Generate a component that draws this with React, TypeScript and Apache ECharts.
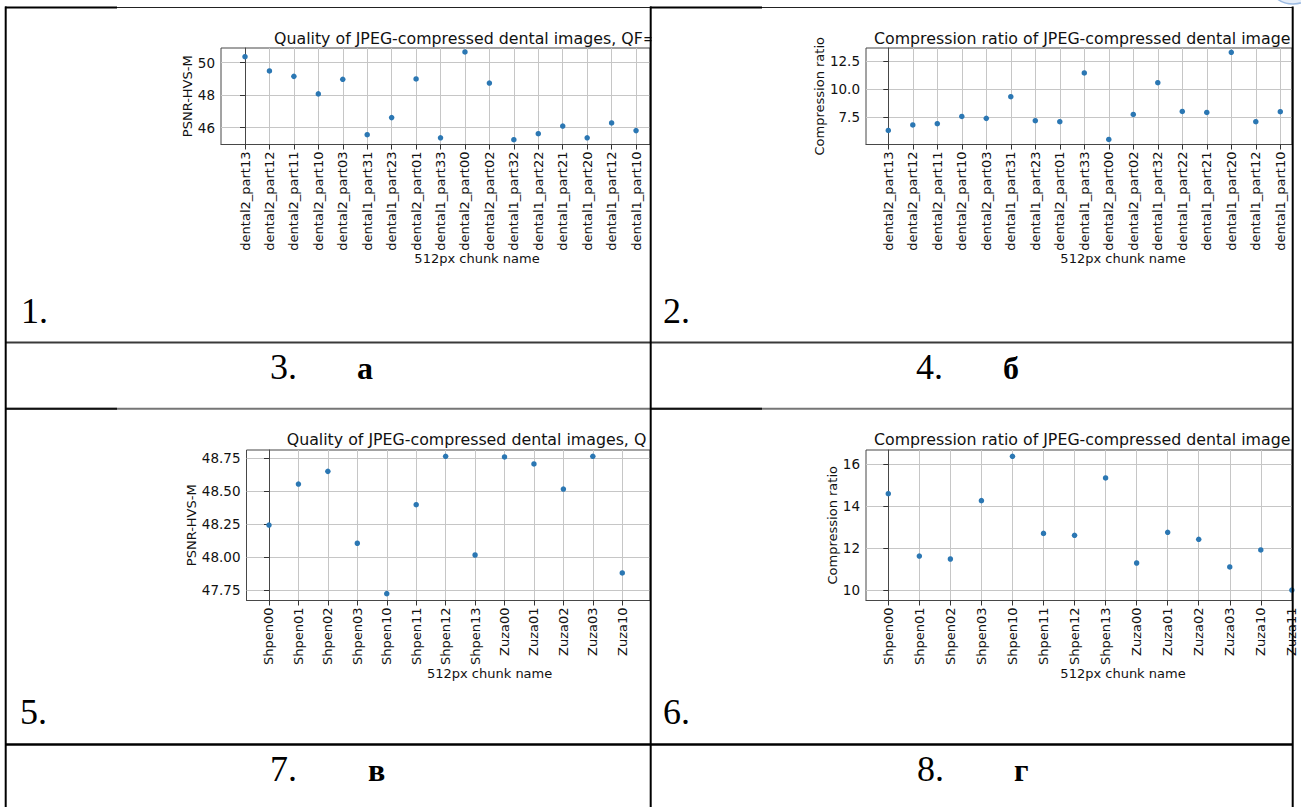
import React, { useEffect, useRef } from 'react';
import * as echarts from 'echarts';

// ---------- data ----------
const chunksDental = [
  'dental2_part13', 'dental2_part12', 'dental2_part11', 'dental2_part10', 'dental2_part03',
  'dental1_part31', 'dental1_part23', 'dental2_part01', 'dental1_part33', 'dental2_part00',
  'dental2_part02', 'dental1_part32', 'dental1_part22', 'dental1_part21', 'dental1_part20',
  'dental1_part12', 'dental1_part10',
];
const psnrDental = [50.37, 49.49, 49.16, 48.08, 48.98, 45.57, 46.62, 49.0, 45.38, 50.66, 48.75, 45.26, 45.63, 46.1, 45.38, 46.29, 45.82];
const ratioDental = [6.3, 6.79, 6.9, 7.55, 7.38, 9.31, 7.17, 7.08, 11.43, 5.5, 7.73, 10.56, 8.0, 7.91, 13.28, 7.08, 7.97];

const chunksShpenZuza = [
  'Shpen00', 'Shpen01', 'Shpen02', 'Shpen03', 'Shpen10', 'Shpen11', 'Shpen12', 'Shpen13',
  'Zuza00', 'Zuza01', 'Zuza02', 'Zuza03', 'Zuza10', 'Zuza11',
];
const psnrShpenZuza = [48.242, 48.553, 48.649, 48.104, 47.722, 48.396, 48.763, 48.015, 48.758, 48.705, 48.515, 48.763, 47.879];
const ratioShpenZuza = [14.6, 11.63, 11.49, 14.27, 16.38, 12.71, 12.62, 15.35, 11.3, 12.76, 12.43, 11.11, 11.92, 10.01];

const ticksPsnrDental = [46, 48, 50];
const ticksRatioDental = [7.5, 10, 12.5];
const ticksPsnrShpen = [47.75, 48, 48.25, 48.5, 48.75];
const ticksRatioShpen = [10, 12, 14, 16];

const titles = [
  'Quality of JPEG-compressed dental images, QF=',
  'Compression ratio of JPEG-compressed dental image',
  'Quality of JPEG-compressed dental images, Q',
  'Compression ratio of JPEG-compressed dental image',
];
const yNames = ['PSNR-HVS-M', 'Compression ratio', 'PSNR-HVS-M', 'Compression ratio'];
const xName = '512px chunk name';

// ---------- layout ----------
const panels = [
  {
    cats: chunksDental, vals: psnrDental, yTicks: ticksPsnrDental, fmt: (v: number) => String(v),
    left: 221, top: 48, width: 429, height: 96.5, xMin: -0.982, xMax: 16.571, yMin: 44.966, yMax: 50.905,
    titleX: 274, titleY: 38, xNameX: 477, xNameY: 258.5, nameGap: 26,
  },
  {
    cats: chunksDental, vals: ratioDental, yTicks: ticksRatioDental, fmt: (v: number) => v.toFixed(1),
    left: 866, top: 48, width: 426, height: 96.5, xMin: -0.91, xMax: 16.478, yMin: 5.045, yMax: 13.661,
    titleX: 874, titleY: 38, xNameX: 1123, xNameY: 258.5, nameGap: 39.5,
  },
  {
    cats: chunksShpenZuza, vals: psnrShpenZuza, yTicks: ticksPsnrShpen, fmt: (v: number) => v.toFixed(2),
    left: 246.5, top: 450, width: 403.5, height: 150.5, xMin: -0.764, xMax: 12.942, yMin: 47.67, yMax: 48.811,
    titleX: 286.7, titleY: 439.5, xNameX: 489.6, xNameY: 673.3, nameGap: 45.7,
  },
  {
    cats: chunksShpenZuza, vals: ratioShpenZuza, yTicks: ticksRatioShpen, fmt: (v: number) => String(v),
    left: 866, top: 450, width: 426, height: 150.5, xMin: -0.718, xMax: 13.005, yMin: 9.514, yMax: 16.681,
    titleX: 874, titleY: 439.5, xNameX: 1123, xNameY: 673.3, nameGap: 26,
  },
];

const TEXT = '#111111';
const SPINE = '#474747';
const GRIDC = '#c6c6c6';
const DOT = '#2b77b3';
const SANS = 'DejaVu Sans';
const SERIF = '"Liberation Serif", "Times New Roman", serif';

function hLine(x1: number, x2: number, y: number, w: number, c: string) {
  return { type: 'line', silent: true, z: 100, shape: { x1, y1: y, x2, y2: y }, style: { stroke: c, lineWidth: w } };
}
function vLine(x: number, y1: number, y2: number, w: number, c: string) {
  return { type: 'line', silent: true, z: 100, shape: { x1: x, y1, x2: x, y2 }, style: { stroke: c, lineWidth: w } };
}
function label(text: string, x: number, y: number, size: number, bold = false) {
  return {
    type: 'text', silent: true, z: 100, x, y,
    style: { text, fontSize: size, fontFamily: SERIF, fontWeight: bold ? 'bold' : 'normal', fill: '#000', align: 'left', verticalAlign: 'middle' },
  };
}

export default function App() {
  const ref = useRef<HTMLDivElement>(null);
  useEffect(() => {
    if (!ref.current) return;
    const chart = echarts.init(ref.current, undefined, { renderer: 'svg' });
    const idx = (p: any) => p.cats.map((_: string, k: number) => k).filter((k: number) => k >= p.xMin && k <= p.xMax);

    const graphics: any[] = [
      // mask for clipped title glyph
      { type: 'rect', silent: true, z: 90, shape: { x: 651.5, y: 26, width: 16, height: 24 }, style: { fill: '#fff' } },
      // table borders
      hLine(5, 1293, 7.5, 1.2, '#222'),
      hLine(5, 117, 7.5, 2, '#000'),
      hLine(650, 762, 7.5, 2, '#000'),
      hLine(5, 1293, 342.5, 2, '#3a3a3a'),
      hLine(5, 1293, 408.8, 2, '#767676'),
      hLine(5, 117, 408.8, 2, '#111'),
      hLine(650, 762, 408.8, 2, '#111'),
      hLine(5, 1293, 744.5, 2.5, '#000'),
      vLine(5.7, 6.5, 807, 2, '#000'),
      vLine(650.7, 6.5, 807, 2, '#000'),
      vLine(1292.7, 6.5, 807, 2, '#000'),
      // top-right partial logo
      { type: 'ellipse', silent: true, z: 100, shape: { cx: 1293, cy: -13, rx: 22, ry: 17 }, style: { fill: '#e6eef9', stroke: '#9dbbe2', lineWidth: 1.5 } },
      // cell labels
      label('1.', 21, 311, 36),
      label('2.', 663, 311, 36),
      label('3.', 270, 367, 36),
      label('а', 357, 368, 32, true),
      label('4.', 916, 367, 36),
      label('б', 1003, 368, 32, true),
      label('5.', 20, 712, 36),
      label('6.', 663, 712, 36),
      label('7.', 270, 769, 36),
      label('в', 368, 770, 32, true),
      label('8.', 917, 769, 36),
      label('г', 1014, 770, 32, true),
    ];
    panels.forEach((p) => {
      graphics.push({
        type: 'text', silent: true, z: 10, x: p.xNameX, y: p.xNameY,
        style: { text: xName, fontSize: 13, fontFamily: SANS, fill: TEXT, align: 'center', verticalAlign: 'middle' },
      });
    });

    const option: any = {
      animation: false,
      backgroundColor: '#ffffff',
      textStyle: { fontFamily: SANS },
      title: panels.map((p, i) => ({
        text: titles[i], left: p.titleX, top: p.titleY - 9, padding: 0,
        textStyle: { fontSize: 15.8, fontWeight: 'normal', color: TEXT, fontFamily: SANS, lineHeight: 18 },
      })),
      grid: panels.map((p) => ({
        left: p.left, top: p.top, width: p.width, height: p.height,
        show: true, borderColor: SPINE, borderWidth: 1, backgroundColor: 'transparent',
      })),
      xAxis: panels.map((p, i) => ({
        type: 'value', gridIndex: i, min: p.xMin, max: p.xMax,
        axisLine: { show: true, lineStyle: { color: SPINE, width: 1 } },
        axisTick: { show: true, length: 5, customValues: idx(p), lineStyle: { color: '#333', width: 1 } },
        axisLabel: {
          customValues: idx(p), rotate: 90, margin: 7, fontSize: 13, color: TEXT, fontFamily: SANS,
          formatter: (v: number) => p.cats[Math.round(v)] ?? '',
        },
        splitLine: { show: true, lineStyle: { color: GRIDC, width: 1 } },
      })),
      yAxis: panels.map((p, i) => ({
        type: 'value', gridIndex: i, min: p.yMin, max: p.yMax,
        name: yNames[i], nameLocation: 'middle', nameGap: p.nameGap, nameRotate: 90,
        nameTextStyle: { fontSize: 13, color: TEXT, fontFamily: SANS },
        axisLine: { show: true, lineStyle: { color: SPINE, width: 1 } },
        axisTick: { show: true, length: 5, customValues: p.yTicks, lineStyle: { color: '#333', width: 1 } },
        axisLabel: { customValues: p.yTicks, margin: 6, fontSize: 13.5, color: TEXT, fontFamily: SANS, formatter: (v: number) => p.fmt(v) },
        splitLine: { show: true, lineStyle: { color: GRIDC, width: 1 } },
      })),
      series: panels.map((p, i) => ({
        type: 'scatter', xAxisIndex: i, yAxisIndex: i,
        symbol: 'circle', symbolSize: 5.5,
        itemStyle: { color: DOT, opacity: 1 },
        data: p.vals.map((v, k) => [k, v]),
      })),
      graphic: graphics,
    };
    chart.setOption(option);
    return () => chart.dispose();
  }, []);
  return (
    <div
      ref={ref}
      style={{ position: 'absolute', left: 0, top: 0, width: 1301, height: 807, background: '#fff' }}
    />
  );
}
